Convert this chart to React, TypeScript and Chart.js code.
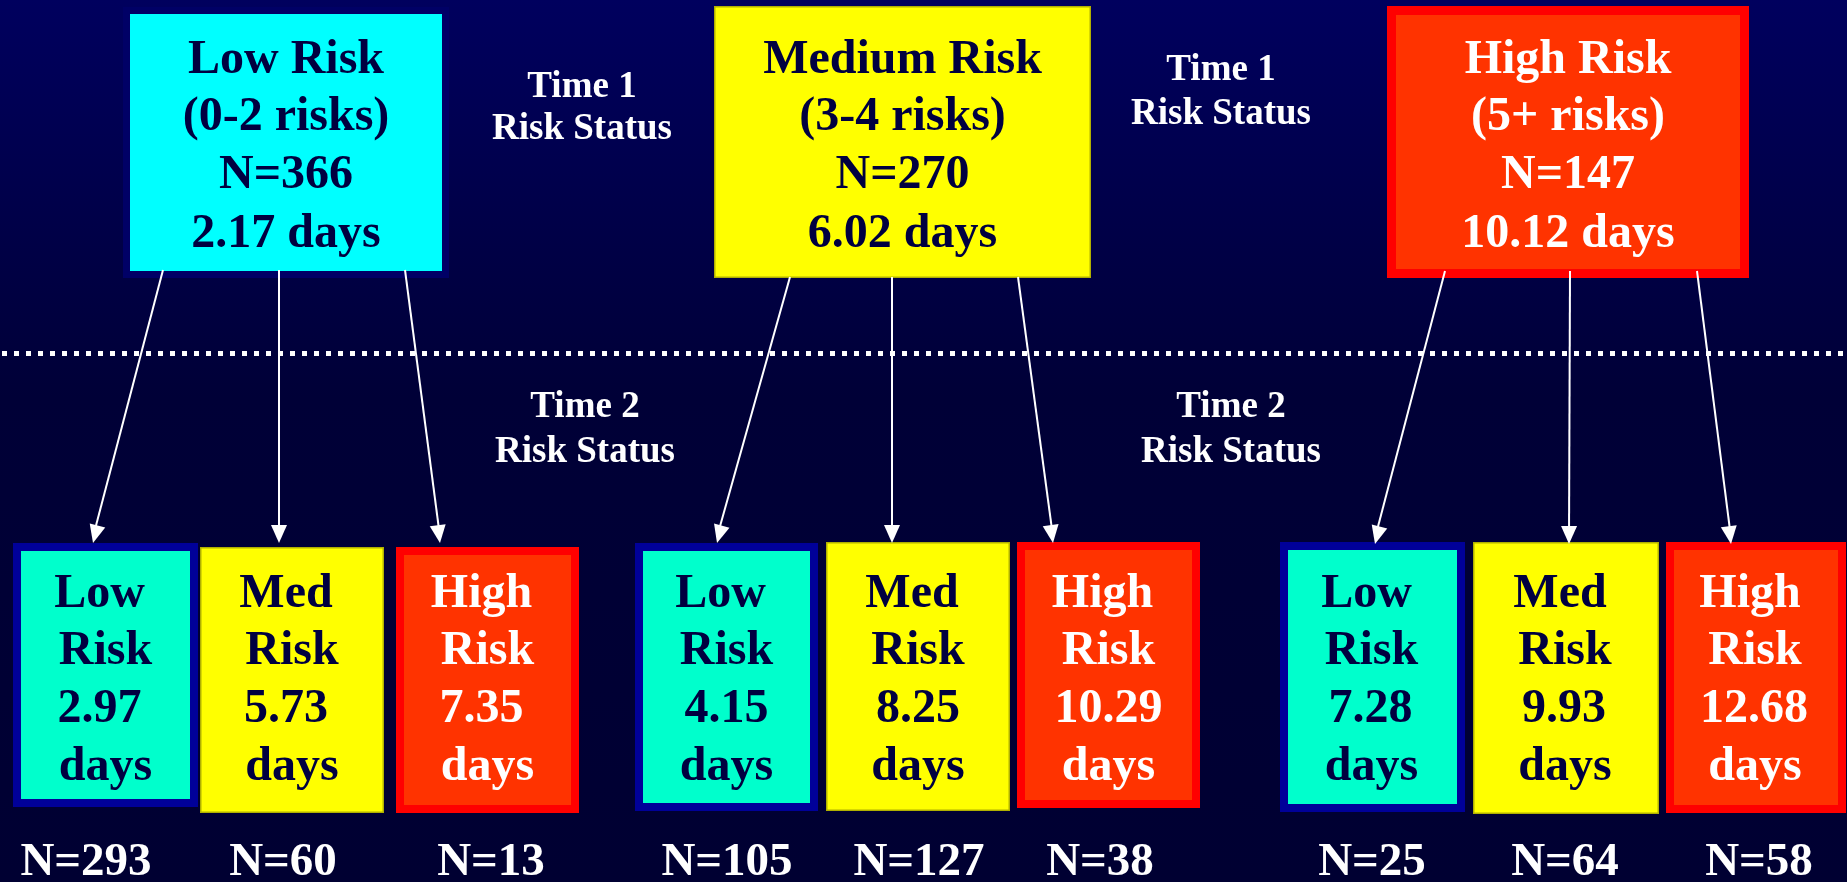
import React, { useEffect, useRef } from 'react';
import { Chart, registerables } from 'chart.js';

Chart.register(...registerables);

const W = 1847;
const H = 882;

// ---------- data ----------
const time1Categories = ['Low Risk', 'Medium Risk', 'High Risk'];
const time1Ranges = ['(0-2 risks)', '(3-4 risks)', '(5+ risks)'];
const time1N = [366, 270, 147];
const time1Days = [2.17, 6.02, 10.12];

const time2Categories = ['Low', 'Med', 'High'];
const time2Days = [
  [2.97, 5.73, 7.35],
  [4.15, 8.25, 10.29],
  [7.28, 9.93, 12.68],
];
const time2N = [
  [293, 60, 13],
  [105, 127, 38],
  [25, 64, 58],
];
const time1Caption = ['Time 1', 'Risk Status'];
const time2Caption = ['Time 2', 'Risk Status'];

// ---------- layout (in scale units) ----------
const topBoxes = [
  [123, 7, 449, 278],
  [714, 6, 1091, 278],
  [1387, 6, 1749, 278],
];
const bottomBoxes = [
  [[13, 543, 198, 807], [200, 547, 384, 813], [396, 547, 579, 813]],
  [[635, 543, 818, 811], [826, 542, 1010, 811], [1017, 542, 1200, 808]],
  [[1280, 542, 1465, 812], [1473, 542, 1659, 814], [1666, 542, 1846, 813]],
];
const arrowStarts = [
  [[163, 270], [279, 270], [405, 270]],
  [[790, 277], [892, 277], [1018, 277]],
  [[1445, 271], [1570, 271], [1697, 271]],
];
const arrowEnds = [
  [[93, 543], [279, 543], [440, 543]],
  [[717, 543], [892, 543], [1053, 543]],
  [[1375, 544], [1569, 544], [1731, 544]],
];
const topLineY = [73, 130, 188, 247];
const bottomLineY = [607, 664, 722, 780];
const bottomLineDx = [
  [-6, 0, -6, 0],
  [-6, 0, 0, 0],
  [-6, -1, -2, -1],
];
const nLabelX = [
  [86, 283, 491],
  [727, 919, 1100],
  [1372, 1565, 1759],
];
const nLabelY = 875;
const time1CaptionPos = [
  { x: 582, y: [97, 139] },
  { x: 1221, y: [80, 124] },
];
const time2CaptionPos = [
  { x: 585, y: [417, 462] },
  { x: 1231, y: [417, 462] },
];
const dottedY = 353.5;

// ---------- styles ----------
const NAVY = '#000040';
const topStyles = [
  { fill: '#00ffff', border: '#000066', bw: 7, text: NAVY },
  { fill: '#ffff00', border: '#b0b000', bw: 1.5, text: NAVY },
  { fill: '#ff3300', border: '#ff0000', bw: 9, text: '#ffffff' },
];
const bottomStyles = [
  { fill: '#00ffcc', border: '#000099', bw: 8, text: NAVY },
  { fill: '#ffff00', border: '#b0b000', bw: 1.5, text: NAVY },
  { fill: '#ff3300', border: '#ff0000', bw: 8, text: '#ffffff' },
];
const SERIF = '"Liberation Serif", "Times New Roman", serif';

function drawBox(chart: any, rect: number[], style: any) {
  const ctx = chart.ctx;
  const xs = chart.scales.x;
  const ys = chart.scales.y;
  const x1 = xs.getPixelForValue(rect[0]);
  const x2 = xs.getPixelForValue(rect[2]);
  const y1 = ys.getPixelForValue(rect[1]);
  const y2 = ys.getPixelForValue(rect[3]);
  ctx.save();
  ctx.fillStyle = style.border;
  ctx.fillRect(x1, y1, x2 - x1, y2 - y1);
  const b = style.bw;
  ctx.fillStyle = style.fill;
  ctx.fillRect(x1 + b, y1 + b, x2 - x1 - 2 * b, y2 - y1 - 2 * b);
  ctx.restore();
}

function drawText(chart: any, text: string, x: number, y: number, size: number, color: string) {
  const ctx = chart.ctx;
  ctx.save();
  ctx.font = `bold ${size}px ${SERIF}`;
  ctx.fillStyle = color;
  ctx.textAlign = 'center';
  ctx.textBaseline = 'alphabetic';
  ctx.fillText(text, chart.scales.x.getPixelForValue(x), chart.scales.y.getPixelForValue(y));
  ctx.restore();
}

const diagramPlugin = {
  id: 'riskDiagram',
  beforeDraw(chart: any) {
    const ctx = chart.ctx;
    const g = ctx.createLinearGradient(0, 0, 0, chart.height);
    g.addColorStop(0, '#00005e');
    g.addColorStop(0.45, '#000037');
    g.addColorStop(1, '#000032');
    ctx.save();
    ctx.fillStyle = g;
    ctx.fillRect(0, 0, chart.width, chart.height);
    ctx.restore();
  },
  beforeDatasetsDraw(chart: any) {
    topBoxes.forEach((r, i) => drawBox(chart, r, topStyles[i]));
    bottomBoxes.forEach((grp) => grp.forEach((r, j) => drawBox(chart, r, bottomStyles[j])));
  },
  afterDatasetsDraw(chart: any) {
    const ctx = chart.ctx;
    const xs = chart.scales.x;
    const ys = chart.scales.y;
    // arrowheads
    arrowStarts.forEach((grp, g) =>
      grp.forEach((s, j) => {
        const e = arrowEnds[g][j];
        const sx = xs.getPixelForValue(s[0]);
        const sy = ys.getPixelForValue(s[1]);
        const ex = xs.getPixelForValue(e[0]);
        const ey = ys.getPixelForValue(e[1]);
        const a = Math.atan2(ey - sy, ex - sx);
        const len = 18;
        const half = 8;
        const bx = ex - len * Math.cos(a);
        const by = ey - len * Math.sin(a);
        ctx.save();
        ctx.fillStyle = '#ffffff';
        ctx.beginPath();
        ctx.moveTo(ex, ey);
        ctx.lineTo(bx + half * Math.sin(a), by - half * Math.cos(a));
        ctx.lineTo(bx - half * Math.sin(a), by + half * Math.cos(a));
        ctx.closePath();
        ctx.fill();
        ctx.restore();
      })
    );
    // top box texts
    topBoxes.forEach((r, i) => {
      const cx = (r[0] + r[2]) / 2;
      const lines = [
        time1Categories[i],
        time1Ranges[i],
        `N=${time1N[i]}`,
        `${time1Days[i].toFixed(2)} days`,
      ];
      lines.forEach((t, k) => drawText(chart, t, cx, topLineY[k], 48, topStyles[i].text));
    });
    // bottom box texts
    bottomBoxes.forEach((grp, g) =>
      grp.forEach((r, j) => {
        const cx = (r[0] + r[2]) / 2;
        const lines = [time2Categories[j], 'Risk', time2Days[g][j].toFixed(2), 'days'];
        lines.forEach((t, k) =>
          drawText(chart, t, cx + bottomLineDx[g][k], bottomLineY[k], 48, bottomStyles[j].text)
        );
        drawText(chart, `N=${time2N[g][j]}`, nLabelX[g][j], nLabelY, 47, '#ffffff');
      })
    );
    // captions
    time1CaptionPos.forEach((p) =>
      time1Caption.forEach((t, k) => drawText(chart, t, p.x, p.y[k], 37, '#ffffff'))
    );
    time2CaptionPos.forEach((p) =>
      time2Caption.forEach((t, k) => drawText(chart, t, p.x, p.y[k], 37, '#ffffff'))
    );
  },
};

function buildDatasets() {
  const ds: any[] = [
    {
      label: 'divider',
      data: [
        { x: 2, y: dottedY },
        { x: W, y: dottedY },
      ],
      showLine: true,
      borderColor: '#ffffff',
      borderWidth: 5,
      borderDash: [5, 7],
      borderCapStyle: 'butt',
      pointRadius: 0,
      fill: false,
    },
  ];
  arrowStarts.forEach((grp, g) =>
    grp.forEach((s, j) => {
      const e = arrowEnds[g][j];
      ds.push({
        label: `arrow-${g}-${j}`,
        data: [
          { x: s[0], y: s[1] },
          { x: e[0], y: e[1] - 6 },
        ],
        showLine: true,
        borderColor: '#ffffff',
        borderWidth: 2,
        pointRadius: 0,
        fill: false,
        tension: 0,
      });
    })
  );
  return ds;
}

export default function App() {
  const ref = useRef<HTMLCanvasElement>(null);
  useEffect(() => {
    document.body.style.margin = '0';
    document.body.style.overflow = 'hidden';
    document.body.style.background = '#000035';
    const chart = new Chart(ref.current as HTMLCanvasElement, {
      type: 'scatter',
      data: { datasets: buildDatasets() },
      options: {
        responsive: false,
        maintainAspectRatio: false,
        devicePixelRatio: 1,
        animation: false,
        events: [],
        layout: { padding: 0 },
        plugins: {
          legend: { display: false },
          tooltip: { enabled: false },
          title: { display: false },
        },
        scales: {
          x: { type: 'linear', min: 0, max: W, display: false },
          y: { type: 'linear', min: 0, max: H, reverse: true, display: false },
        },
      },
      plugins: [diagramPlugin],
    } as any);
    return () => chart.destroy();
  }, []);
  return (
    <div style={{ width: W, height: H }}>
      <canvas ref={ref} width={W} height={H} style={{ display: 'block', width: W, height: H }} />
    </div>
  );
}
